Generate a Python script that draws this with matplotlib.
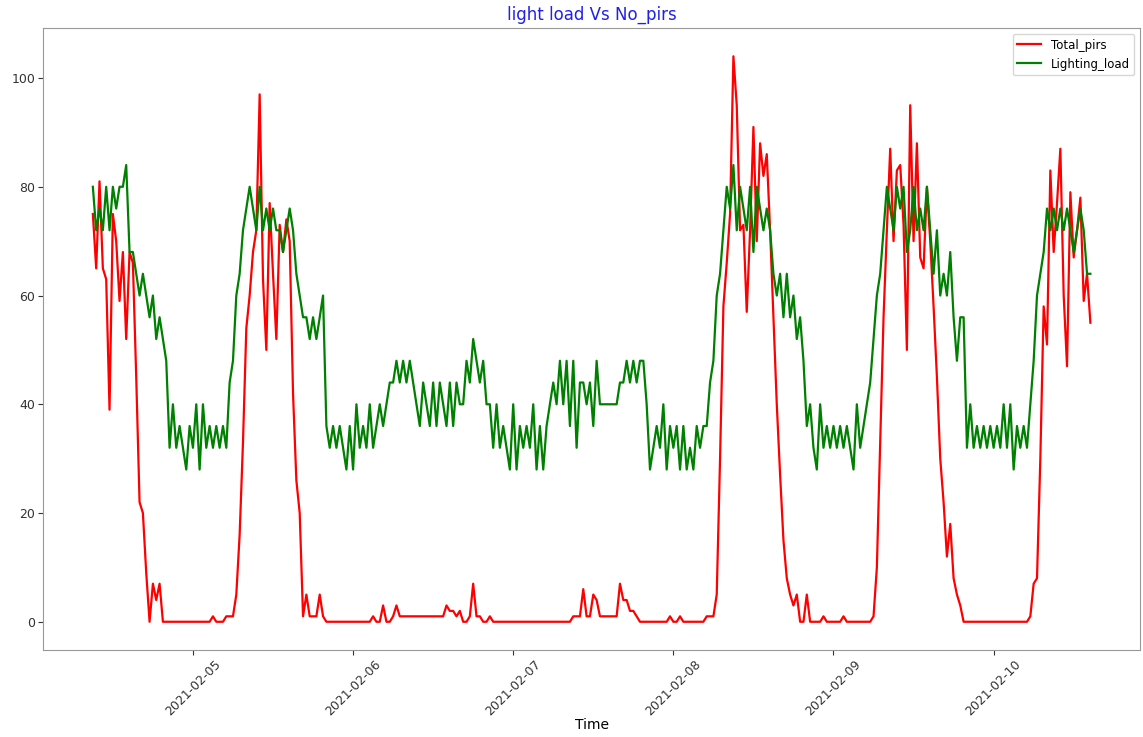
import matplotlib
matplotlib.use('Agg')
import matplotlib.pyplot as plt
import matplotlib.dates as mdates
import pandas as pd

# readings every 30 min, starting 2021-02-04 09:00
start_time = '2021-02-04 09:00'
step = '30min'

total_pirs = [
    75, 65, 81, 65, 63, 39, 75, 70, 59, 68,
    52, 68, 66, 45, 22, 20, 9, 0, 7, 4,
    7, 0, 0, 0, 0, 0, 0, 0, 0, 0,
    0, 0, 0, 0, 0, 0, 1, 0, 0, 0,
    1, 1, 1, 5, 16, 33, 54, 60, 68, 72,
    97, 63, 50, 77, 64, 52, 73, 68, 74, 70,
    42, 26, 20, 1, 5, 1, 1, 1, 5, 1,
    0, 0, 0, 0, 0, 0, 0, 0, 0, 0,
    0, 0, 0, 0, 1, 0, 0, 3, 0, 0,
    1, 3, 1, 1, 1, 1, 1, 1, 1, 1,
    1, 1, 1, 1, 1, 1, 3, 2, 2, 1,
    2, 0, 0, 1, 7, 1, 1, 0, 0, 1,
    0, 0, 0, 0, 0, 0, 0, 0, 0, 0,
    0, 0, 0, 0, 0, 0, 0, 0, 0, 0,
    0, 0, 0, 0, 1, 1, 1, 6, 1, 1,
    5, 4, 1, 1, 1, 1, 1, 1, 7, 4,
    4, 2, 2, 1, 0, 0, 0, 0, 0, 0,
    0, 0, 0, 1, 0, 0, 1, 0, 0, 0,
    0, 0, 0, 0, 1, 1, 1, 5, 30, 58,
    66, 75, 104, 95, 72, 73, 57, 72, 91, 70,
    88, 82, 86, 72, 56, 40, 27, 15, 8, 5,
    3, 5, 0, 0, 5, 0, 0, 0, 0, 1,
    0, 0, 0, 0, 0, 1, 0, 0, 0, 0,
    0, 0, 0, 0, 1, 10, 33, 56, 72, 87,
    70, 83, 84, 73, 50, 95, 70, 88, 67, 65,
    80, 70, 58, 45, 30, 22, 12, 18, 8, 5,
    3, 0, 0, 0, 0, 0, 0, 0, 0, 0,
    0, 0, 0, 0, 0, 0, 0, 0, 0, 0,
    0, 1, 7, 8, 30, 58, 51, 83, 68, 77,
    87, 60, 47, 79, 67, 72, 78, 59, 64, 55,
]

lighting_load = [
    80, 72, 76, 72, 80, 72, 80, 76, 80, 80,
    84, 68, 68, 64, 60, 64, 60, 56, 60, 52,
    56, 52, 48, 32, 40, 32, 36, 32, 28, 36,
    32, 40, 28, 40, 32, 36, 32, 36, 32, 36,
    32, 44, 48, 60, 64, 72, 76, 80, 76, 72,
    80, 72, 76, 72, 76, 72, 72, 68, 72, 76,
    72, 64, 60, 56, 56, 52, 56, 52, 56, 60,
    36, 32, 36, 32, 36, 32, 28, 36, 28, 40,
    32, 36, 32, 40, 32, 36, 40, 36, 40, 44,
    44, 48, 44, 48, 44, 48, 44, 40, 36, 44,
    40, 36, 44, 36, 44, 40, 36, 44, 36, 44,
    40, 40, 48, 44, 52, 48, 44, 48, 40, 40,
    32, 40, 32, 36, 32, 28, 40, 28, 36, 32,
    36, 32, 40, 28, 36, 28, 36, 40, 44, 40,
    48, 40, 48, 36, 48, 32, 44, 44, 40, 44,
    36, 48, 40, 40, 40, 40, 40, 40, 44, 44,
    48, 44, 48, 44, 48, 48, 40, 28, 32, 36,
    32, 40, 28, 36, 32, 36, 28, 36, 28, 32,
    28, 36, 32, 36, 36, 44, 48, 60, 64, 72,
    80, 76, 84, 72, 80, 76, 72, 80, 68, 80,
    76, 72, 76, 72, 64, 60, 64, 56, 64, 56,
    60, 52, 56, 48, 36, 40, 32, 28, 40, 32,
    36, 32, 36, 32, 36, 32, 36, 32, 28, 40,
    32, 36, 40, 44, 52, 60, 64, 72, 80, 76,
    72, 80, 76, 80, 68, 72, 80, 72, 76, 72,
    80, 72, 64, 72, 60, 64, 60, 68, 56, 48,
    56, 56, 32, 40, 32, 36, 32, 36, 32, 36,
    32, 36, 32, 40, 32, 40, 28, 36, 32, 36,
    32, 40, 48, 60, 64, 68, 76, 72, 76, 72,
    76, 72, 76, 72, 68, 72, 76, 72, 64, 64,
]

times = pd.date_range(start_time, periods=len(total_pirs), freq=step)

fig = plt.figure(figsize=(11.43, 7.37), dpi=100)
ax = fig.add_axes([0.0376, 0.118, 0.96, 0.844])

ax.plot(times, total_pirs, color='red', linewidth=1.6, label='Total_pirs')
ax.plot(times, lighting_load, color='green', linewidth=1.6, label='Lighting_load')

ax.set_title('light load Vs No_pirs', color='#2020ee', fontsize=12)
ax.set_xlabel('Time', fontsize=10, labelpad=0)
ax.set_yticks([0, 20, 40, 60, 80, 100])
ax.xaxis.set_major_locator(mdates.DayLocator())
ax.xaxis.set_major_formatter(mdates.DateFormatter('%Y-%m-%d'))
ax.tick_params(axis='both', labelsize=9, colors='0.2', pad=2)
plt.setp(ax.get_xticklabels(), rotation=45)
for spine in ax.spines.values():
    spine.set_color('0.6')

ax.legend(loc='upper right', fontsize=8.5)

fig.savefig('out.png', dpi=100)
